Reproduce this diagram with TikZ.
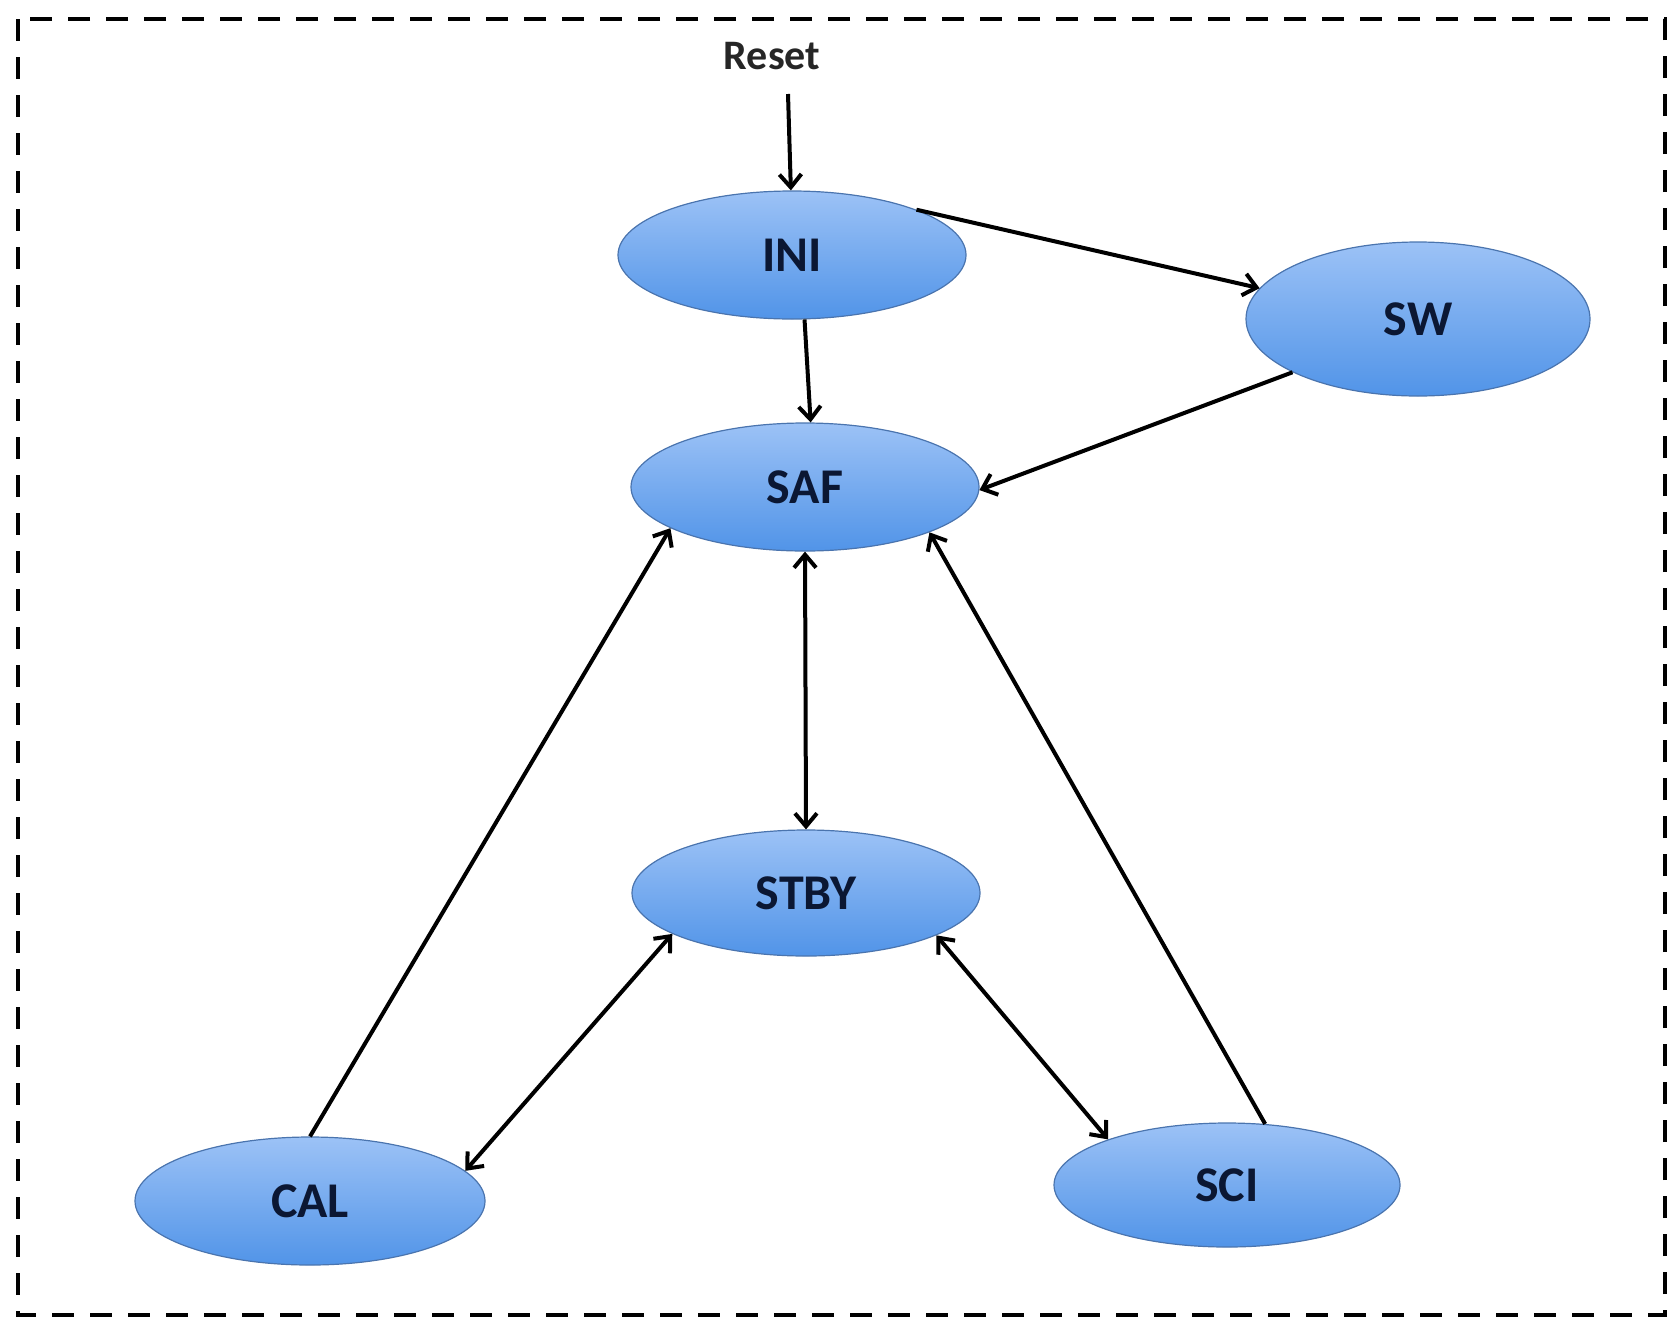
\documentclass[tikz,border=0pt]{standalone}
\usepackage{fontspec}
\setmainfont{Carlito}
\usetikzlibrary{arrows.meta,shapes.geometric}
\definecolor{txtnavy}{HTML}{0B1733}
\definecolor{elltop}{HTML}{9CC2F6}
\definecolor{ellbot}{HTML}{5194E8}
\definecolor{elledge}{HTML}{4A74AE}
\tikzset{
  state/.style={ellipse, draw=elledge, line width=0.6pt, top color=elltop, bottom color=ellbot,
    inner sep=0pt, minimum width=174pt, minimum height=64pt,
    font=\fontsize{25}{29}\selectfont\bfseries, text=txtnavy},
  tip/.tip={Straight Barb[length=6.5pt,width=11pt,line width=2pt]},
  conn/.style={line width=2pt, draw=black, -tip},
  bconn/.style={line width=2pt, draw=black, tip-tip},
  frame/.style={draw=black, line width=1.8pt, dash pattern=on 11pt off 8pt}
}
\begin{document}
\begin{tikzpicture}[x=0.5pt,y=-0.5pt]
\useasboundingbox (0,0) rectangle (1669,1323);
\draw[frame] (18,19) rectangle (1665,1315);
\node[state] (INI) at (792,255) {INI};
\node[state, minimum height=77pt, minimum width=172pt] (SW) at (1418,319) {SW};
\node[state] (SAF) at (805,487) {SAF};
\node[state, minimum height=63pt] (STBY) at (806,893) {STBY};
\node[state, minimum width=175pt] (CAL) at (310,1201) {CAL};
\node[state, minimum height=62pt, minimum width=173pt] (SCI) at (1227,1185) {SCI};
\node[font=\fontsize{21}{24}\selectfont\bfseries, text=black!85] (reset) at (772,56) {Reset};
\coordinate (rs) at (788,94);
\draw[conn] (rs) -- (INI.91);
\draw[conn] (INI.20.5) -- (SW.169);
\draw[conn] (INI.-79) -- (SAF.85);
\draw[conn] (SW.203.5) -- (SAF.-1);
\draw[bconn] (SAF.-90) -- (STBY.90);
\draw[conn] (CAL.90) -- (SAF.197);
\draw[bconn] (STBY.197) -- (CAL.11);
\draw[bconn] (STBY.-18.4) -- (SCI.159);
\draw[conn] (SCI.58) -- (SAF.-20.9);
\end{tikzpicture}
\end{document}
